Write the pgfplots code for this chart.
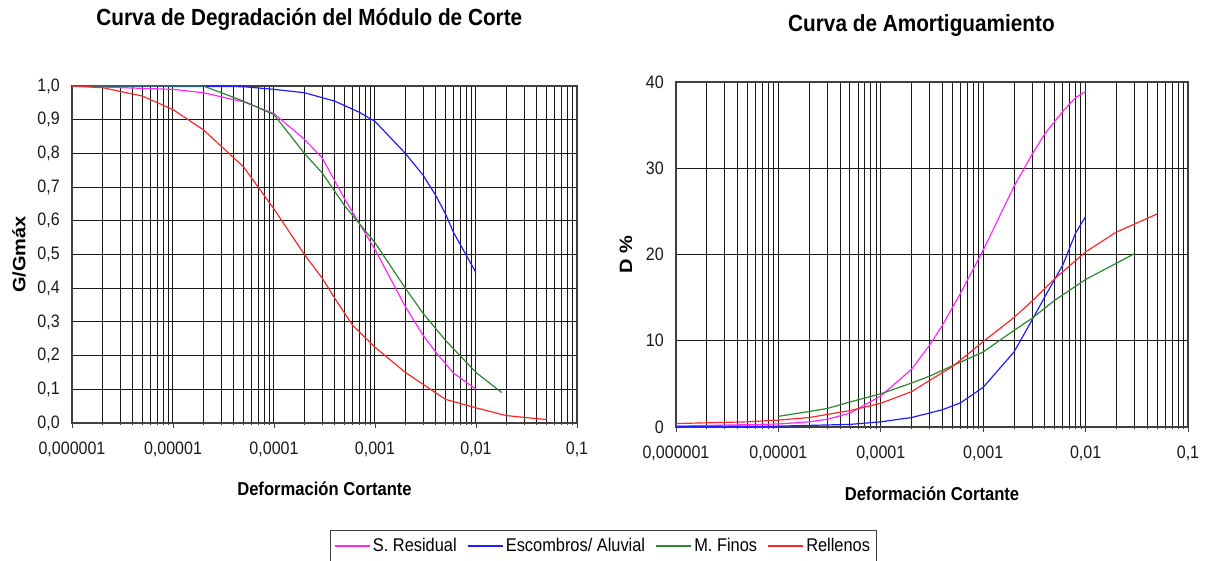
\documentclass[border=0pt]{standalone}
\usepackage{fontspec}
\setmainfont{Liberation Sans}
\newfontfamily\nfont[FakeStretch=0.89]{Liberation Sans}
\newfontfamily\vfont[FakeStretch=1.12]{Liberation Sans}
\usepackage{pgfplots}
\pgfplotsset{compat=1.18}
\definecolor{cmag}{RGB}{255,40,255}
\definecolor{cblue}{RGB}{30,30,255}
\definecolor{cgreen}{RGB}{45,135,45}
\definecolor{cred}{RGB}{255,40,40}
\pgfplotsset{
  scale only axis,
  xmajorgrids, xminorgrids, ymajorgrids,
  major grid style={black!90, line width=0.75pt},
  minor grid style={black!90, line width=0.75pt},
  axis line style={black!75, line width=0.8pt},
  tick align=inside,
  xtick pos=bottom, ytick pos=left,
  major tick length=4pt, minor tick length=1.6pt,
  every major tick/.append style={black!75, line width=0.6pt, yshift=-4pt},
  every minor tick/.append style={black!75, line width=0.6pt, yshift=-1.6pt},
  ytick style={draw=none},
  tick label style={font=\nfont\fontsize{13.5}{15}\selectfont, text=black!90},
  xticklabel style={anchor=center, yshift=-19.5pt},
  yticklabel style={anchor=east, inner sep=0pt, xshift=-9pt},
  xlabel style={font=\nfont\bfseries\fontsize{14}{16}\selectfont, at={(axis description cs:0.5,-0.194)}, anchor=center},
  ylabel style={font=\vfont\bfseries\fontsize{13.4}{15}\selectfont, anchor=center},
  title style={font=\nfont\bfseries\fontsize{17.5}{20}\selectfont, anchor=center},
  every axis title shift=0pt,
  every axis plot/.append style={line width=0.9pt, mark=none},
}
\begin{document}
\begin{tikzpicture}[x=1pt,y=1pt]
\path[use as bounding box] (0,0) rectangle (906,420.75);
% ---------- left ----------
\begin{axis}[
  at={(54pt,103.5pt)}, anchor=south west,
  width=378.75pt, height=252.75pt,
  xmode=log, xmin=1e-6, xmax=1e-1,
  xtick={1e-6,1e-5,1e-4,1e-3,1e-2,1e-1},
  xticklabels={{0,000001},{0,00001},{0,0001},{0,001},{0,01},{0,1}},
  minor xtick={2e-6,3e-6,4e-6,5e-6,6e-6,7e-6,8e-6,9e-6,
               2e-5,3e-5,4e-5,5e-5,6e-5,7e-5,8e-5,9e-5,
               2e-4,3e-4,4e-4,5e-4,6e-4,7e-4,8e-4,9e-4,
               2e-3,3e-3,4e-3,5e-3,6e-3,7e-3,8e-3,9e-3,
               2e-2,3e-2,4e-2,5e-2,6e-2,7e-2,8e-2,9e-2},
  ymin=0, ymax=1,
  ytick={0,0.1,0.2,0.3,0.4,0.5,0.6,0.7,0.8,0.9,1},
  yticklabels={{0,0},{0,1},{0,2},{0,3},{0,4},{0,5},{0,6},{0,7},{0,8},{0,9},{1,0}},
  xlabel={Deformación Cortante},
  ylabel={G/Gmáx},
  every axis y label/.append style={at={(axis description cs:-0.105,0.5)}},
  title={Curva de Degradación del Módulo de Corte},
  every axis title/.append style={at={(axis description cs:0.470,1.199)}, anchor=center},
  legend columns=4,
  legend style={at={(axis description cs:0.5109,-0.3175)}, anchor=north west,
    draw=black!75, line width=0.6pt, inner xsep=3pt, inner ysep=4pt,
    font=\nfont\fontsize{13.8}{15}\selectfont,
    /tikz/every even column/.append style={column sep=6pt}},
  legend image code/.code={\draw[#1, line width=0.9pt] (0pt,0pt) -- (26pt,0pt);},
]
\addplot[cmag] coordinates {
 (1e-6,1.0) (1e-5,0.99) (2e-5,0.98) (5e-5,0.953) (1e-4,0.918) (2e-4,0.842)
 (3e-4,0.787) (5e-4,0.665) (1e-3,0.515) (2e-3,0.345) (3e-3,0.26) (4e-3,0.21)
 (6e-3,0.148) (1e-2,0.10)};
\addlegendentry{S. Residual}
\addplot[cblue] coordinates {
 (1e-6,1.0) (5e-5,0.998) (1e-4,0.99) (2e-4,0.98) (4e-4,0.955) (7e-4,0.922)
 (1e-3,0.895) (2e-3,0.80) (3e-3,0.735) (4e-3,0.675) (5e-3,0.62) (6e-3,0.565)
 (1e-2,0.446)};
\addlegendentry{Escombros/ Aluvial}
\addplot[cgreen] coordinates {
 (1e-6,1.0) (2e-5,1.0) (5e-5,0.955) (1e-4,0.915) (2e-4,0.80) (3e-4,0.742)
 (5e-4,0.645) (1e-3,0.535) (2e-3,0.40) (3e-3,0.325) (5e-3,0.245) (1e-2,0.15)
 (1.8e-2,0.09)};
\addlegendentry{M. Finos}
\addplot[cred] coordinates {
 (1e-6,1.0) (2e-6,0.995) (5e-6,0.97) (1e-5,0.93) (2e-5,0.87) (5e-5,0.76)
 (1e-4,0.635) (2e-4,0.50) (3e-4,0.43) (4e-4,0.37) (6e-4,0.29) (1e-3,0.225)
 (2e-3,0.15) (5e-3,0.07) (1e-2,0.045) (2e-2,0.022) (5e-2,0.01)};
\addlegendentry{Rellenos}
\end{axis}
% ---------- right ----------
\begin{axis}[
  at={(507pt,100.5pt)}, anchor=south west,
  width=384pt, height=258.75pt,
  xmode=log, xmin=1e-6, xmax=1e-1,
  xtick={1e-6,1e-5,1e-4,1e-3,1e-2,1e-1},
  xticklabels={{0,000001},{0,00001},{0,0001},{0,001},{0,01},{0,1}},
  minor xtick={2e-6,3e-6,4e-6,5e-6,6e-6,7e-6,8e-6,9e-6,
               2e-5,3e-5,4e-5,5e-5,6e-5,7e-5,8e-5,9e-5,
               2e-4,3e-4,4e-4,5e-4,6e-4,7e-4,8e-4,9e-4,
               2e-3,3e-3,4e-3,5e-3,6e-3,7e-3,8e-3,9e-3,
               2e-2,3e-2,4e-2,5e-2,6e-2,7e-2,8e-2,9e-2},
  ymin=0, ymax=40,
  ytick={0,10,20,30,40},
  yticklabels={0,10,20,30,40},
  xlabel={Deformación Cortante},
  ylabel={D \%},
  every axis y label/.append style={at={(axis description cs:-0.0977,0.5)}},
  title={Curva de Amortiguamiento},
  every axis title/.append style={at={(axis description cs:0.4795,1.165)}, anchor=center},
]
\addplot[cmag] coordinates {
 (1e-6,0.1) (1e-5,0.35) (2e-5,0.6) (3e-5,0.9) (5e-5,1.6) (1e-4,3.6) (2e-4,6.7)
 (3e-4,9.5) (4e-4,11.8) (6e-4,15.5) (1e-3,20.5) (2e-3,27.9) (3e-3,31.6)
 (4e-3,34.0) (6e-3,36.6) (8e-3,38.2) (1e-2,38.9)};
\addplot[cblue] coordinates {
 (1e-6,0.05) (1e-5,0.1) (5e-5,0.3) (1e-4,0.6) (2e-4,1.1) (4e-4,2.0) (6e-4,2.8)
 (1e-3,4.6) (2e-3,8.7) (3e-3,12.4) (4e-3,15.1) (6e-3,18.8) (8e-3,22.5)
 (1e-2,24.4)};
\addplot[cgreen] coordinates {
 (1e-5,1.24) (2e-5,1.8) (3e-5,2.15) (5e-5,2.9) (1e-4,3.85) (2e-4,5.1)
 (3e-4,5.9) (5e-4,7.1) (1e-3,8.7) (2e-3,11.2) (3e-3,12.6) (5e-3,14.7)
 (1e-2,17.1) (3e-2,20.1)};
\addplot[cred] coordinates {
 (1e-6,0.4) (5e-6,0.6) (1e-5,0.8) (2e-5,1.1) (5e-5,1.9) (1e-4,2.75) (2e-4,4.1)
 (3e-4,5.4) (5e-4,7.0) (1e-3,9.9) (2e-3,12.7) (3e-3,14.6) (5e-3,17.2)
 (1e-2,20.3) (2e-2,22.6) (5e-2,24.7)};
\end{axis}
\end{tikzpicture}
\end{document}
